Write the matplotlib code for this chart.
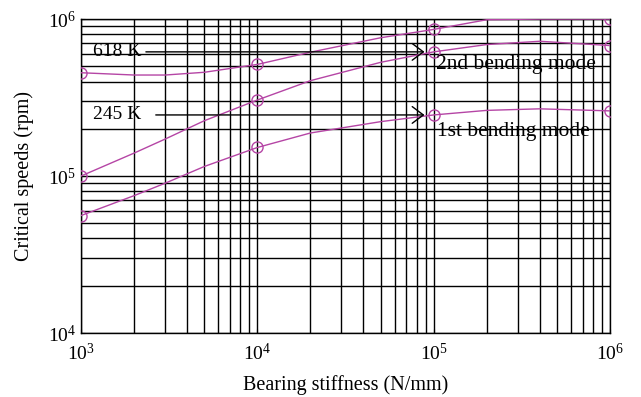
import matplotlib
matplotlib.use("Agg")
import matplotlib.pyplot as plt
import numpy as np

plt.rcParams['font.family'] = ['Liberation Serif', 'DejaVu Serif']
plt.rcParams['mathtext.fontset'] = 'stix'

stiffness = [1e3, 2e3, 3e3, 5e3, 1e4, 2e4, 5e4, 1e5, 2e5, 4e5, 1e6]
mode1 = [56e3, 75e3, 90e3, 115e3, 152e3, 188e3, 222e3, 245e3, 262e3, 268e3, 260e3]
mode2 = [100e3, 140e3, 172e3, 225e3, 305e3, 405e3, 530e3, 618e3, 688e3, 722e3, 678e3]
mode3 = [455e3, 440e3, 440e3, 458e3, 514e3, 615e3, 760e3, 859e3, 990e3, 1.0e6, 1.0e6]
marker_x = [1e3, 1e4, 1e5, 1e6]
annot_vals = [618e3, 245e3]
annot_labels = ['618 K', '245 K']
mode_labels = ['2nd bending mode', '1st bending mode']

color = '#b545a5'

fig = plt.figure(figsize=(6.41, 3.97), dpi=100)
ax = fig.add_axes([0.1264, 0.1612, 0.8252, 0.7908])
ax.set_xscale('log')
ax.set_yscale('log')
ax.set_xlim(1e3, 1e6)
ax.set_ylim(1e4, 1e6)

for ys in (mode1, mode2, mode3):
    ax.plot(stiffness, ys, color=color, lw=1.0, zorder=3)
    my = [ys[stiffness.index(x)] for x in marker_x]
    ax.plot(marker_x, my, linestyle='none', marker='o', ms=8, mfc='none',
            mec=color, mew=1.0, zorder=4)

ax.grid(True, which='both', color='black', lw=1.0)
for s in ax.spines.values():
    s.set_linewidth(1.0)
ax.tick_params(which='both', direction='in', length=3, labelsize=14)
ax.tick_params(axis='x', pad=7)
ax.set_xlabel('Bearing stiffness (N/mm)', fontsize=14.5, labelpad=8)
ax.set_ylabel('Critical speeds (rpm)', fontsize=14.5, labelpad=10)

# annotations
arrow_style = '->, head_length=0.4, head_width=0.3'
ax.annotate('', xy=(9.2e4, annot_vals[0]), xytext=(2.25e3, annot_vals[0]),
            arrowprops=dict(arrowstyle=arrow_style, color='black', lw=1.0, mutation_scale=20),
            zorder=5)
ax.text(2.2e3, annot_vals[0], annot_labels[0], ha='right', va='center', fontsize=14, zorder=6)
ax.annotate('', xy=(9.2e4, annot_vals[1]), xytext=(2.56e3, annot_vals[1]),
            arrowprops=dict(arrowstyle=arrow_style, color='black', lw=1.0, mutation_scale=20),
            zorder=5)
ax.text(2.2e3, annot_vals[1], annot_labels[1], ha='right', va='center', fontsize=14, zorder=6)

ax.text(1.03e5, 510e3, mode_labels[0], ha='left', va='center', fontsize=15.5, zorder=6)
ax.text(1.05e5, 193e3, mode_labels[1], ha='left', va='center', fontsize=15.5, zorder=6)

fig.savefig('out.png', dpi=100)
